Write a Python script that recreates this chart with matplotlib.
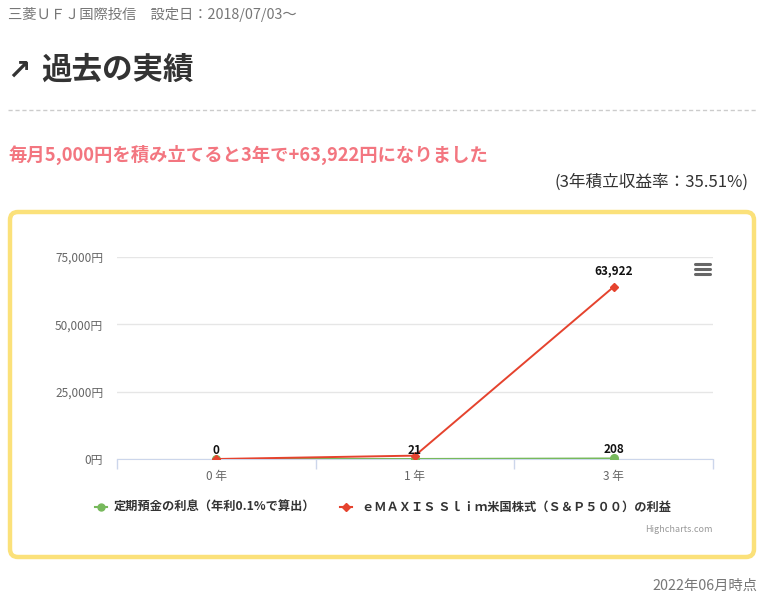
import matplotlib
matplotlib.use("Agg")
import matplotlib.pyplot as plt
from matplotlib.patches import FancyBboxPatch

plt.rcParams["font.family"] = ["Noto Sans CJK JP", "DejaVu Sans"]

# data
years = ["0 年", "1 年", "3 年"]
deposit = [0, 21, 208]
emaxis = [0, 1250, 63922]
y_ticks = [0, 25000, 50000, 75000]
deposit_name = "定期預金の利息（年利0.1%で算出）"
emaxis_name = "ｅＭＡＸＩＳ Ｓｌｉｍ米国株式（Ｓ＆Ｐ５００）の利益"

green = "#77b95c"
red = "#e5432e"

fig = plt.figure(figsize=(7.68, 6.04), dpi=100)

# background canvas in pixel units
bg = fig.add_axes([0, 0, 1, 1])
bg.set_xlim(0, 768)
bg.set_ylim(604, 0)
bg.axis("off")

bg.text(8, 15, "三菱ＵＦＪ国際投信　設定日：2018/07/03～", fontsize=10.3,
        color="#777777", va="center", ha="left")
bg.text(7, 71, "↗", fontsize=20, fontweight="bold", color="#333333",
        va="center", ha="left", family=["DejaVu Sans"])
bg.text(41, 70, "過去の実績", fontsize=22, fontweight="bold", color="#333333",
        va="center", ha="left")
bg.plot([8, 758], [110, 110], color="#cccccc", lw=1, ls=(0, (3, 2)))

bg.text(8, 155, "毎月5,000円を積み立てると3年で+63,922円になりました",
        fontsize=13.2, fontweight="bold", color="#f37680", va="center", ha="left")
bg.text(748, 182, "(3年積立収益率：35.51%)", fontsize=12, color="#333333",
        va="center", ha="right")

box = FancyBboxPatch((10, 212), 744, 345, boxstyle="round,pad=0,rounding_size=8",
                     fc="white", ec="#fbe17a", lw=3.2)
bg.add_patch(box)

# hamburger menu
for yy in [264, 269, 274]:
    bg.plot([695, 710], [yy, yy], color="#666666", lw=2.2, solid_capstyle="round")

# legend
bg.plot([95, 107], [507, 507], color=green, lw=1.5)
bg.plot(101, 507, marker="o", ms=5, color=green)
bg.text(114, 507, deposit_name, fontsize=8.8, fontweight="semibold", color="#333333",
        va="center", ha="left")
bg.plot([340, 352], [507, 507], color=red, lw=1.5)
bg.plot(346, 507, marker="D", ms=4, color=red)
bg.text(362, 507, emaxis_name, fontsize=8.8, fontweight="semibold", color="#333333",
        va="center", ha="left")

bg.text(713, 529, "Highcharts.com", fontsize=6.5, color="#999999",
        va="center", ha="right")
bg.text(757, 586, "2022年06月時点", fontsize=10.3, color="#777777",
        va="center", ha="right")

# chart
ax = fig.add_axes([117 / 768, 1 - 459 / 604, 596 / 768, 202 / 604])
ax.patch.set_alpha(0)
x = list(range(len(years)))
ax.plot(x, deposit, color=green, lw=1.4, marker="o", ms=5.5, zorder=3)
ax.plot(x, emaxis, color=red, lw=1.4, marker="D", ms=4, zorder=4)

ax.set_xlim(-0.5, 2.5)
ax.set_ylim(0, 75000)
ax.set_yticks(y_ticks)
ax.set_yticklabels([f"{v:,}円" for v in y_ticks], fontsize=8.5, color="#666666")
ax.set_xticks(x)
ax.set_xticklabels(years, fontsize=8.5, color="#666666")
ax.set_xticks([-0.5, 0.5, 1.5, 2.5], minor=True)
ax.tick_params(axis="x", which="major", length=0, pad=8)
ax.tick_params(axis="x", which="minor", length=7, color="#ccd6eb", width=1)
ax.tick_params(axis="y", length=0, pad=10)
ax.grid(axis="y", color="#e6e6e6", lw=1)
ax.set_axisbelow(True)
for s in ["top", "right", "left"]:
    ax.spines[s].set_visible(False)
ax.spines["bottom"].set_color("#ccd6eb")
ax.spines["bottom"].set_zorder(2)

# data labels
for i, v in enumerate(deposit):
    ax.annotate(f"{v:,}", (i, v), xytext=(0, 1.5), textcoords="offset points",
                ha="center", va="bottom", fontsize=8.5, fontweight="bold",
                color="#111111", zorder=5)
ax.annotate(f"{emaxis[2]:,}", (2, emaxis[2]), xytext=(0, 7), textcoords="offset points",
            ha="center", va="bottom", fontsize=8.5, fontweight="bold",
            color="#111111", zorder=5)

fig.savefig("out.png", dpi=100)
